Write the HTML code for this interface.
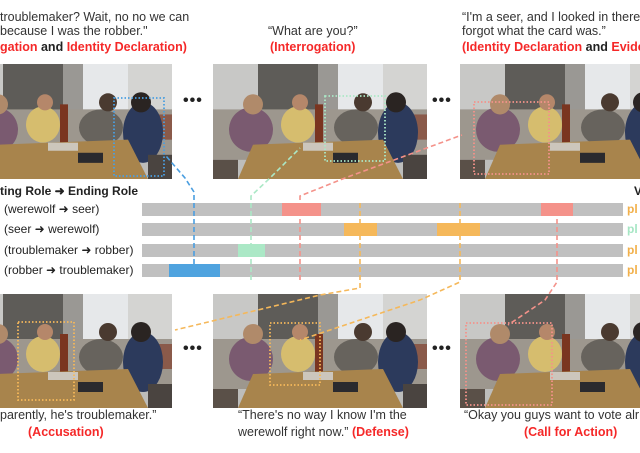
<!DOCTYPE html>
<html><head><meta charset="utf-8"><style>
body{margin:0;width:640px;height:453px;overflow:hidden;background:#fff;position:relative;font-family:"Liberation Sans",Arial,sans-serif;}
.t{position:absolute;font-size:12.5px;color:#333;white-space:nowrap;line-height:14px;}
.r{color:#f52828;font-weight:bold;}
.b{font-weight:bold;color:#222;}
.ph{position:absolute;overflow:hidden;}
.lbl{position:absolute;font-size:12px;color:#222;white-space:nowrap;}
.dots{position:absolute;font-size:16px;font-weight:bold;color:#222;letter-spacing:1px;}
</style></head><body>
<svg width="0" height="0" style="position:absolute">
<defs>
<symbol id="scene" viewBox="0 0 214 114" preserveAspectRatio="none">
<rect width="214" height="114" fill="#bdbdbb"/>
<rect x="0" y="0" width="45" height="50" fill="#c8c8c6"/>
<rect x="45" y="0" width="60" height="60" fill="#5e5c58"/>
<rect x="105" y="0" width="20" height="55" fill="#9a9894"/>
<rect x="125" y="0" width="45" height="45" fill="#e6e8ea"/>
<rect x="170" y="0" width="44" height="50" fill="#d4d4d2"/>
<rect x="0" y="45" width="214" height="50" fill="#9d978e"/>
<rect x="195" y="50" width="19" height="25" fill="#8a5a4a"/>
<ellipse cx="38" cy="65" rx="22" ry="22" fill="#7a5a70"/>
<circle cx="40" cy="40" r="10" fill="#b08a6a"/>
<ellipse cx="85" cy="60" rx="17" ry="18" fill="#d6bd6e"/>
<circle cx="87" cy="38" r="8" fill="#b5876a"/>
<rect x="102" y="40" width="8" height="40" fill="#7a3520"/>
<ellipse cx="143" cy="63" rx="22" ry="18" fill="#67635d"/>
<circle cx="150" cy="38" r="9" fill="#4a3a30"/>
<ellipse cx="185" cy="68" rx="20" ry="30" fill="#2c3a5c"/>
<circle cx="183" cy="38" r="10" fill="#2a2422"/>
<polygon points="40,80 170,75 190,114 25,114" fill="#a8844c"/>
<rect x="90" y="78" width="30" height="8" fill="#ccc6bc"/>
<rect x="120" y="88" width="25" height="10" fill="#2a2a2e"/>
<rect x="0" y="95" width="25" height="19" fill="#5a5048"/>
<rect x="190" y="90" width="24" height="24" fill="#4a4440"/>
</symbol>
</defs></svg>

<!-- top captions -->
<div class="t" style="left:0;top:10px">troublemaker? Wait, no no we can</div>
<div class="t" style="left:0;top:24px">because I was the robber."</div>
<div class="t" style="left:0;top:40px"><span class="r">gation</span> <span class="b">and</span> <span class="r">Identity Declaration)</span></div>
<div class="t" style="left:268px;top:24px">“What are you?”</div>
<div class="t" style="left:270px;top:40px"><span class="r">(Interrogation)</span></div>
<div class="t" style="left:462px;top:10px">“I'm a seer, and I looked in there</div>
<div class="t" style="left:462px;top:24px">forgot what the card was.”</div>
<div class="t" style="left:462px;top:40px"><span class="r">(Identity Declaration</span> <span class="b">and</span> <span class="r">Evide</span></div>

<!-- top photos -->
<svg class="ph" style="left:0;top:64px" width="172" height="115"><use href="#scene" x="-42" width="214" height="115"/></svg>
<svg class="ph" style="left:213px;top:64px" width="214" height="115"><use href="#scene" width="214" height="115"/></svg>
<svg class="ph" style="left:460px;top:64px" width="180" height="115"><use href="#scene" width="214" height="115"/></svg>
<div class="dots" style="left:183px;top:92px">•••</div>
<div class="dots" style="left:432px;top:92px">•••</div>

<!-- bottom photos -->
<svg class="ph" style="left:0;top:294px" width="172" height="114"><use href="#scene" x="-42" width="214" height="114"/></svg>
<svg class="ph" style="left:213px;top:294px" width="214" height="114"><use href="#scene" width="214" height="114"/></svg>
<svg class="ph" style="left:460px;top:294px" width="180" height="114"><use href="#scene" width="214" height="114"/></svg>
<div class="dots" style="left:183px;top:340px">•••</div>
<div class="dots" style="left:432px;top:340px">•••</div>

<!-- labels -->
<div class="lbl" style="left:0;top:184px;font-weight:bold">ting Role ➜ Ending Role</div>
<div class="lbl" style="left:634px;top:184px;font-weight:bold">V</div>
<div class="lbl" style="left:4px;top:202px">(werewolf ➜ seer)</div>
<div class="lbl" style="left:4px;top:222px">(seer ➜ werewolf)</div>
<div class="lbl" style="left:4px;top:243px">(troublemaker ➜ robber)</div>
<div class="lbl" style="left:4px;top:263px">(robber ➜ troublemaker)</div>
<div class="lbl" style="left:627px;top:202px;color:#f2b04a;font-weight:bold">pl</div>
<div class="lbl" style="left:627px;top:222px;color:#a6e6c4;font-weight:bold">pl</div>
<div class="lbl" style="left:627px;top:243px;color:#f2b04a;font-weight:bold">pl</div>
<div class="lbl" style="left:627px;top:263px;color:#f2b04a;font-weight:bold">pl</div>

<svg style="position:absolute;left:0;top:0" width="640" height="453">
<g fill="#c0c0c0">
<rect x="142" y="203" width="481" height="13"/>
<rect x="142" y="223" width="481" height="13"/>
<rect x="142" y="244" width="481" height="13"/>
<rect x="142" y="264" width="481" height="13"/>
</g>
<rect x="282" y="203" width="39" height="13" fill="#f4928a"/>
<rect x="541" y="203" width="32" height="13" fill="#f4928a"/>
<rect x="344" y="223" width="33" height="13" fill="#f5b85a"/>
<rect x="437" y="223" width="43" height="13" fill="#f5b85a"/>
<rect x="238" y="244" width="27" height="13" fill="#abe8c6"/>
<rect x="169" y="264" width="51" height="13" fill="#4fa3df"/>

<g fill="none" stroke-width="1.6" stroke-dasharray="5,3">
<polyline points="194,264 194,192 185,178 166,156" stroke="#4a9ee0"/>
<polyline points="251,280 251,196 270,178 300,148" stroke="#abe8c6"/>
<polyline points="300,280 300,196 345,178 462,135" stroke="#f4928a"/>
<polyline points="360,203 360,288 320,295 175,330" stroke="#f5b85a"/>
<polyline points="460,203 460,282 420,300 300,340" stroke="#f5b85a"/>
<polyline points="557,203 557,282 545,300 508,325" stroke="#f4928a"/>
</g>
<g fill="none" stroke-width="1.8" stroke-dasharray="1.5,2">
<rect x="114" y="98" width="50" height="78" stroke="#4a9ee0"/>
<rect x="325" y="96" width="60" height="65" stroke="#abe8c6"/>
<rect x="474" y="102" width="75" height="72" stroke="#f4928a"/>
<rect x="18" y="322" width="56" height="78" stroke="#f5b85a"/>
<rect x="270" y="323" width="50" height="62" stroke="#f5b85a"/>
<rect x="466" y="323" width="86" height="82" stroke="#f4928a"/>
</g>
</svg>

<!-- bottom captions -->
<div class="t" style="left:0;top:408px">parently, he's troublemaker.”</div>
<div class="t" style="left:28px;top:425px"><span class="r">(Accusation)</span></div>
<div class="t" style="left:238px;top:408px">“There's no way I know I'm the</div>
<div class="t" style="left:238px;top:425px">werewolf right now.” <span class="r">(Defense)</span></div>
<div class="t" style="left:464px;top:408px">“Okay you guys want to vote alr</div>
<div class="t" style="left:524px;top:425px"><span class="r">(Call for Action)</span></div>
</body></html>
